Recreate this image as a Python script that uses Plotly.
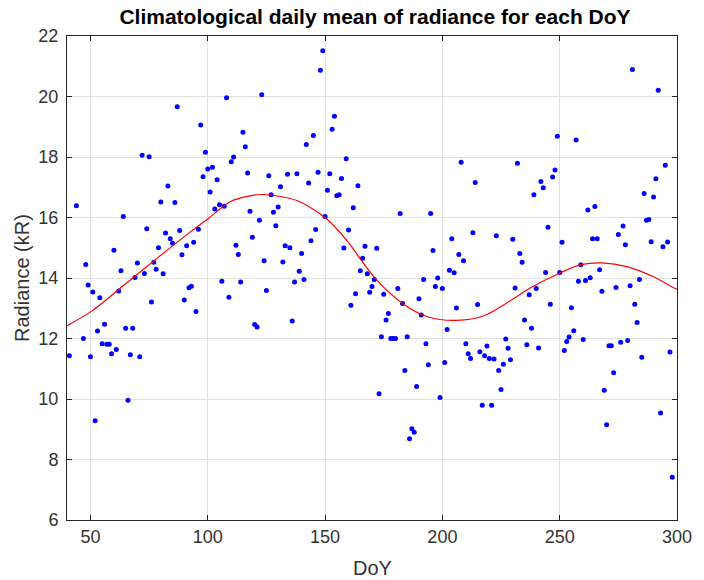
import plotly.graph_objects as go

# Scatter data: day of year and climatological daily mean radiance (kR)
doy = [41, 44, 47, 48, 49, 50, 51, 52, 53, 54, 55, 56, 57, 58, 59, 60, 61, 62, 63, 64,
       65, 66, 67, 68, 69, 70, 71, 72, 73, 74, 75, 76, 77, 78, 79, 80, 81, 82, 83, 84,
       85, 86, 87, 88, 89, 90, 91, 92, 93, 94, 95, 96, 97, 98, 99, 100, 101, 102, 103, 104,
       105, 106, 107, 108, 109, 110, 111, 112, 113, 114, 115, 116, 117, 118, 119, 120, 121, 122, 123, 124,
       125, 126, 127, 128, 129, 130, 131, 132, 133, 134, 135, 136, 137, 138, 139, 140, 141, 142, 143, 144,
       145, 146, 147, 148, 149, 150, 151, 152, 153, 154, 155, 156, 157, 158, 159, 160, 161, 162, 163, 164,
       165, 166, 167, 168, 169, 170, 171, 172, 173, 174, 175, 176, 177, 178, 179, 180, 181, 182, 183, 184,
       185, 186, 187, 188, 189, 190, 191, 192, 193, 194, 195, 196, 197, 198, 199, 200, 201, 202, 203, 204,
       205, 206, 207, 208, 209, 210, 211, 212, 213, 214, 215, 216, 217, 218, 219, 220, 221, 222, 223, 224,
       225, 226, 227, 228, 229, 230, 231, 232, 233, 234, 235, 236, 237, 238, 239, 240, 241, 242, 243, 244,
       245, 246, 247, 248, 249, 250, 251, 252, 253, 254, 255, 256, 257, 258, 259, 260, 261, 262, 263, 264,
       265, 266, 267, 268, 269, 270, 271, 272, 273, 274, 275, 276, 277, 278, 279, 280, 281, 282, 283, 284,
       285, 286, 287, 288, 289, 290, 291, 292, 293, 294, 295, 296, 297, 298]

radiance = [11.43, 16.39, 12.0, 14.45, 13.77, 11.4, 13.54, 9.28, 12.25, 13.35, 11.83, 12.47, 11.81, 11.81, 11.5, 14.92, 11.64, 13.57, 14.24, 16.03,
            12.34, 9.96, 11.46, 12.34, 14.02, 14.5, 11.4, 18.06, 14.15, 15.63, 18.01, 13.21, 14.52, 14.29, 15.0, 16.51, 14.14, 15.49, 17.04, 15.3,
            15.15, 16.5, 19.66, 15.57, 14.77, 13.27, 15.07, 13.68, 13.73, 15.18, 12.89, 15.61, 19.06, 17.35, 18.16, 17.6, 16.84, 17.66, 16.28, 17.25,
            16.42, 13.89, 16.37, 19.96, 13.36, 17.84, 18.0, 15.08, 14.78, 13.87, 18.82, 18.34, 17.47, 16.21, 15.35, 12.46, 12.38, 15.91, 20.06, 14.57,
            13.59, 17.38, 16.75, 16.17, 15.73, 16.35, 17.02, 14.53, 15.07, 17.43, 15.0, 12.58, 13.87, 17.45, 14.22, 14.81, 13.95, 18.41, 17.14, 15.23,
            18.71, 15.6, 17.5, 20.87, 21.51, 16.03, 16.9, 17.45, 18.92, 19.35, 16.72, 16.75, 17.29, 14.99, 17.94, 15.59, 13.1, 16.32, 13.48, 17.05,
            14.24, 14.65, 15.05, 14.14, 13.53, 13.72, 13.95, 14.98, 10.17, 12.06, 13.46, 12.61, 12.83, 12.0, 12.0, 12.0, 13.65, 16.13, 13.16, 10.94,
            12.06, 8.69, 9.02, 8.9, 10.41, 13.31, 12.78, 13.95, 11.83, 11.13, 16.13, 14.91, 13.72, 14.0, 10.05, 13.65, 11.21, 12.3, 14.26, 15.3,
            14.17, 13.01, 14.78, 17.83, 14.57, 11.83, 11.5, 11.34, 15.5, 17.16, 13.12, 11.56, 9.79, 11.43, 11.75, 11.34, 9.79, 11.32, 15.4, 10.94,
            10.31, 11.15, 11.98, 11.68, 11.3, 15.28, 13.67, 17.79, 14.81, 14.52, 12.61, 11.79, 13.45, 12.34, 16.75, 13.65, 11.69, 17.19, 16.98, 14.18,
            15.68, 13.13, 17.34, 17.57, 18.69, 14.18, 15.18, 11.6, 11.9, 12.05, 13.02, 12.26, 18.56, 13.89, 14.44, 11.97, 13.92, 16.25, 14.01, 15.3,
            16.36, 15.3, 14.27, 13.56, 10.29, 9.15, 11.76, 11.76, 10.87, 13.69, 15.44, 11.88, 15.72, 15.1, 11.93, 13.74, 20.89, 13.13, 12.53, 13.95,
            11.38, 16.79, 15.91, 15.93, 15.2, 16.68, 17.28, 20.21, 9.54, 15.03, 17.73, 15.19, 11.55, 7.41]

# Fitted curve, values
fit_doy = [40, 51, 65, 79, 93, 99, 110, 123, 138, 150, 155, 160, 171, 183, 194, 206, 218, 231, 237, 251, 259, 268, 279, 290, 298, 300]
fit_rad = [12.42, 12.93, 13.81, 14.69, 15.55, 15.89, 16.54, 16.76, 16.56, 16.0, 15.62, 15.17, 14.02, 13.16, 12.71, 12.6, 12.76, 13.35, 13.65, 14.2, 14.44, 14.5, 14.37, 14.04, 13.7, 13.62]

x_ticks = [50, 100, 150, 200, 250, 300]
y_ticks = [6, 8, 10, 12, 14, 16, 18, 20, 22]

FONT = "Liberation Sans, Arial, sans-serif"
AXC = "#262626"

fig = go.Figure()
fig.add_trace(go.Scatter(x=doy, y=radiance, mode="markers",
                         marker=dict(color="#0000ff", size=5, line=dict(width=0)),
                         showlegend=False, hoverinfo="x+y"))
fig.add_trace(go.Scatter(x=fit_doy, y=fit_rad, mode="lines",
                         line=dict(color="#ff0000", width=1.2, shape="spline", smoothing=0.8),
                         showlegend=False))

axis_common = dict(showline=True, linecolor=AXC, linewidth=1, mirror="ticks",
                   ticks="inside", ticklen=5, tickcolor=AXC, tickwidth=1,
                   showgrid=True, gridcolor="#e0e0e0", gridwidth=1, zeroline=False,
                   tickfont=dict(family=FONT, size=18, color="#333333"))

fig.update_layout(
    width=704, height=580,
    margin=dict(l=67, r=21, t=36, b=60),
    paper_bgcolor="white", plot_bgcolor="white",
    title=dict(text="<b>Climatological daily mean of radiance for each DoY</b>",
               font=dict(family=FONT, size=21, color="black"),
               x=(67 + 683) / 2 / 704, xanchor="center",
               y=1 - 17 / 580, yanchor="middle", yref="container"),
    xaxis=dict(range=[40, 300], tickvals=x_ticks, **axis_common),
    yaxis=dict(range=[6, 22], tickvals=y_ticks, ticklabelstandoff=4, **axis_common),
    annotations=[
        dict(text="DoY", xref="paper", yref="paper", x=0.5, y=0, yanchor="middle",
             yshift=-48, showarrow=False, font=dict(family=FONT, size=20, color="#333333")),
        dict(text="Radiance (kR)", xref="paper", yref="paper", x=0, y=0.5, xanchor="center",
             xshift=-45, textangle=-90, showarrow=False,
             font=dict(family=FONT, size=20, color="#333333")),
    ],
)

fig.write_html("out.html")
